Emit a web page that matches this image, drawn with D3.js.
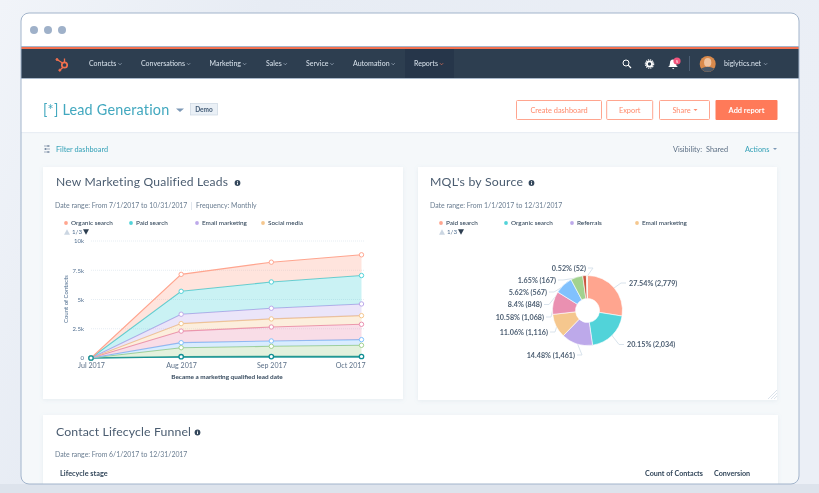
<!DOCTYPE html>
<html><head><meta charset="utf-8">
<style>
html,body{margin:0;padding:0;background:#e8edf4;overflow:hidden}
svg{display:block;font-family:Lato,"Open Sans",sans-serif;filter:blur(.3px)}
</style>
<script src="https://cdnjs.cloudflare.com/ajax/libs/d3/7.8.5/d3.min.js"></script>
</head><body><svg id="c" width="819" height="493"></svg>
<script>
// ---------- data ----------
const months = ["Jul 2017","Aug 2017","Sep 2017","Oct 2017"];
const yTicks = [0,2500,5000,7500,10000];
const yTickLabels = ["0","2.5k","5k","7.5k","10k"];
// stacked from the bottom up
const stackSeries = ["Offline","Other","Direct","Referrals","Social media","Email marketing","Paid search","Organic search"];
const offlineVals = [0,110,120,130];
const otherVals   = [0,770,880,955];
const directVals  = [0,430,455,485];
const referralVals= [0,990,1195,1310];
const socialVals  = [0,640,690,740];
const emailVals   = [0,800,910,1000];
const paidVals    = [0,1960,2250,2430];
const organicVals = [0,1450,1690,1770];
const stackColors = ["#0f8f95","#a2d28f","#81c1fd","#ea90b1","#f5c78e","#bda9ea","#51d3d9","#ffa58f"];
const lineLegend = ["Organic search","Paid search","Email marketing","Social media"];
const lineLegendColors = ["#ffa58f","#51d3d9","#bda9ea","#f5c78e"];

const pieNames = ["Paid search","Organic search","Referrals","Email marketing","Social media","Direct traffic","Other campaigns","Offline sources","Unknown"];
const pieValues = [2779,2034,1461,1116,1068,848,567,167,52];
const piePercents = ["27.54%","20.15%","14.48%","11.06%","10.58%","8.4%","5.62%","1.65%","0.52%"];
const pieColors = ["#ffa58f","#51d3d9","#bda9ea","#f5c78e","#ea90b1","#81c1fd","#a2d28f","#c9573f","#ecdcc0"];
const pieLegend = ["Paid search","Organic search","Referrals","Email marketing"];
const navItems = ["Contacts","Conversations","Marketing","Sales","Service","Automation","Reports"];

// ---------- layout ----------
const navX = [89,141,209.5,266,306,353,414];
const legendXLine = [66,131,197,263];
const legendXPie = [441,506,572,637];
// label anchor [x, y, text-anchor] for each slice
const pieLabelLayout = [[629,283,"start"],[627,344.5,"start"],[575,355,"end"],[548,332,"end"],[544,317,"end"],[542,304.5,"end"],[547,292,"end"],[556,280,"end"],[586,268,"end"]];

const svg = d3.select("#c");
const defs = svg.append("defs");
const g1 = defs.append("linearGradient").attr("id","bg").attr("x1",0).attr("y1",0).attr("x2",1).attr("y2",0.3);
g1.append("stop").attr("offset",0).attr("stop-color","#f1f4f9");
g1.append("stop").attr("offset",.3).attr("stop-color","#e7ecf4");
g1.append("stop").attr("offset",1).attr("stop-color","#ebeff6");
defs.append("clipPath").attr("id","win").append("rect").attr("x",21).attr("y",13).attr("width",778).attr("height",471).attr("rx",8);
const sh = defs.append("filter").attr("id","sh").attr("x","-5%").attr("y","-5%").attr("width","110%").attr("height","110%");
sh.append("feDropShadow").attr("dx",0).attr("dy",1).attr("stdDeviation",2).attr("flood-color","#7c98b6").attr("flood-opacity",.12);

function T(p,x,y,s,size,fill,o={}){
  const t=p.append("text").attr("x",x).attr("y",y).attr("dy","0.35em").attr("font-size",size).attr("fill",fill).text(s);
  if(o.anchor)t.attr("text-anchor",o.anchor);
  if(o.weight)t.attr("font-weight",o.weight);
  if(o.ls)t.attr("letter-spacing",o.ls);
  return t;
}
svg.append("rect").attr("width",819).attr("height",493).attr("fill","url(#bg)");
svg.append("rect").attr("y",484).attr("width",819).attr("height",9).attr("fill","#dde3ec");
svg.append("rect").attr("x",21).attr("y",13).attr("width",778).attr("height",471).attr("rx",8).attr("fill","#f5f8fa");

const win = svg.append("g").attr("clip-path","url(#win)");
// title bar
win.append("rect").attr("x",21).attr("y",13).attr("width",778).attr("height",33).attr("fill","#fff");
[34,48,62].forEach(x=>win.append("circle").attr("cx",x).attr("cy",30).attr("r",4).attr("fill","#9fb1c9"));
win.append("rect").attr("x",21).attr("y",46).attr("width",778).attr("height",1).attr("fill","#a5b6cc");
win.append("rect").attr("x",21).attr("y",47).attr("width",778).attr("height",2).attr("fill","#f2704f");
win.append("rect").attr("x",21).attr("y",49).attr("width",778).attr("height",29).attr("fill","#2d3e50");
win.append("rect").attr("x",21).attr("y",78).attr("width",778).attr("height",1).attr("fill","#a9b8ca");
win.append("rect").attr("x",405).attr("y",49).attr("width",49).attr("height",29).attr("fill","#26364a");
// logo
const lg = win.append("g").attr("stroke","#f2704f").attr("fill","none");
lg.append("circle").attr("cx",64.5).attr("cy",65).attr("r",2.7).attr("stroke-width",1.7);
lg.append("path").attr("d","M57,59.5 L62.5,63 M64.5,58.5 V62 M62.8,67.5 L60,70").attr("stroke-width",1.3);
lg.append("circle").attr("cx",57).attr("cy",59.5).attr("r",1).attr("fill","#f2704f");
lg.append("circle").attr("cx",59.8).attr("cy",70.2).attr("r",1).attr("fill","#f2704f");
// nav
navItems.forEach((n,i)=>{
  const t=T(win,navX[i],64,n,7,"#d5dfe9",{weight:500});
  const w=t.node().getComputedTextLength();
  win.append("path").attr("d",`M${navX[i]+w+2},63.2 l1.6,1.6 l1.6,-1.6`).attr("fill","none").attr("stroke",i==6?"#ff7a59":"#b8c6d6").attr("stroke-width",.6);
});
// right icons
win.append("circle").attr("cx",626).attr("cy",63).attr("r",3).attr("fill","none").attr("stroke","#fff").attr("stroke-width",1);
win.append("path").attr("d","M628.2,65.2 L631,68").attr("stroke","#fff").attr("stroke-width",1.2);
win.append("circle").attr("cx",649.5).attr("cy",64).attr("r",2.6).attr("fill","none").attr("stroke","#fff").attr("stroke-width",1.8);
win.append("circle").attr("cx",649.5).attr("cy",64).attr("r",4.2).attr("fill","none").attr("stroke","#fff").attr("stroke-width",1.1).attr("stroke-dasharray","1.3 .9");
win.append("path").attr("d","M668,67 q2,-1 2,-4 q0,-3.5 3,-3.5 q3,0 3,3.5 q0,3 2,4 z M672,68 h2.4 l-1.2,1.3 z").attr("fill","#fff");
win.append("circle").attr("cx",677).attr("cy",61).attr("r",3.6).attr("fill","#f2547d");
T(win,677,61,"5",4.5,"#fff",{anchor:"middle"});
win.append("rect").attr("x",689).attr("y",56).attr("width",.7).attr("height",15).attr("fill","#5a6e84");
win.append("circle").attr("cx",707.7).attr("cy",64).attr("r",8).attr("fill","#d98a4c");
win.append("ellipse").attr("cx",707.7).attr("cy",62.5).attr("rx",3.6).attr("ry",4.4).attr("fill","#efc3a0");
win.append("path").attr("d","M701.2,68.5 q6.5,-3.5 13,0 a8,8 0 0 1 -13,0").attr("fill","#4a5868");
T(win,724,64,"biglytics.net",7,"#d5dfe9",{weight:500});
win.append("path").attr("d","M764,63.2 l1.6,1.6 l1.6,-1.6").attr("fill","none").attr("stroke","#b8c6d6").attr("stroke-width",.6);

// header band
win.append("rect").attr("x",21).attr("y",79).attr("width",778).attr("height",53).attr("fill","#fff");
win.append("rect").attr("x",21).attr("y",132).attr("width",778).attr("height",1.2).attr("fill","#e9eef4");
T(win,43,110,"[*] Lead Generation",14.4,"#42a8bf",{ls:.2});
win.append("path").attr("d","M176,108.5 h8 l-4,3.5 z").attr("fill","#7c98b6");
win.append("rect").attr("x",190.5).attr("y",103.5).attr("width",27).attr("height",11.5).attr("fill","#eaf0f6").attr("stroke","#cbd6e2").attr("stroke-width",.7);
T(win,204,109.5,"Demo",6.5,"#425b76",{anchor:"middle",weight:700});
const btns=[["Create dashboard",516.5,85],["Export",606.7,46],["Share",659.5,50]];
btns.forEach(([s,x,w],i)=>{
  win.append("rect").attr("x",x).attr("y",100.5).attr("width",w).attr("height",19).attr("rx",1).attr("fill","#fff").attr("stroke","#ffa58f").attr("stroke-width",1);
  T(win,x+w/2-(i==2?3:0),110,s,7.4,"#ff8a6c",{anchor:"middle"});
});
win.append("path").attr("d","M693.5,109 h4 l-2,2 z").attr("fill","#ff8a6c");
win.append("rect").attr("x",715.5).attr("y",100).attr("width",62).attr("height",20).attr("rx",1).attr("fill","#ff7a59");
T(win,746.5,110,"Add report",7.4,"#fff",{anchor:"middle",weight:700});
// filter row
[[44,146],[44,149],[44,152]].forEach(([x,y],i)=>{
  win.append("path").attr("d",`M${x},${y} h6`).attr("stroke","#7c8ea3").attr("stroke-width",.7);
  win.append("rect").attr("x",x+[3.5,1,3.5][i]).attr("y",y-1).attr("width",1.2).attr("height",2).attr("fill","#7c8ea3");
});
T(win,56,149,"Filter dashboard",7.3,"#3fa6bb",{weight:500});
T(win,673,149,"Visibility:",7.3,"#5c6f84");
T(win,706,149,"Shared",7.3,"#5c6f84");
T(win,745,149,"Actions",7.3,"#3fa6bb",{weight:500});
win.append("path").attr("d","M773,148 h4 l-2,2 z").attr("fill","#7c98b6");

function card(x,y,w,h){win.append("rect").attr("x",x).attr("y",y).attr("width",w).attr("height",h).attr("fill","#fff").attr("filter","url(#sh)");}
function info(x,y){
  win.append("circle").attr("cx",x).attr("cy",y).attr("r",2.9).attr("fill","#33475b");
  win.append("rect").attr("x",x-.5).attr("y",y-.4).attr("width",1).attr("height",2).attr("fill","#fff");
  win.append("rect").attr("x",x-.5).attr("y",y-1.7).attr("width",1).attr("height",.8).attr("fill","#fff");
}
function pager(x,y){
  win.append("path").attr("d",`M${x-3},${y+2.7} h6 l-3,-5.4 z`).attr("fill","#cbd6e2");
  T(win,x+5,y,"1/3",6.2,"#516f90");
  win.append("path").attr("d",`M${x+16},${y-2.7} h6 l-3,5.4 z`).attr("fill","#2d3e50");
}
card(43,167,360,232);card(418,167,359,233);card(43,415,735,80);

// ---------- left card ----------
T(win,56,182,"New Marketing Qualified Leads",12.1,"#4a5c70",{ls:.2});
info(237.5,183);
T(win,55,206,"Date range: From 7/1/2017 to 10/31/2017",6.9,"#6a7d91");
win.append("rect").attr("x",191).attr("y",202).attr("width",.6).attr("height",8).attr("fill","#cbd6e2");
T(win,196,206,"Frequency: Monthly",6.9,"#6a7d91");
lineLegend.forEach((n,i)=>{
  win.append("circle").attr("cx",legendXLine[i]).attr("cy",223).attr("r",1.9).attr("fill",lineLegendColors[i]);
  T(win,legendXLine[i]+5,222.5,n,6.4,"#33475b",{weight:500});
});
pager(67,232);

const x = d3.scalePoint().domain(months).range([91,361.5]);
const y = d3.scaleLinear().domain([0,10000]).range([358,241]);
const rows = months.map((m,i)=>({m,Offline:offlineVals[i],Other:otherVals[i],Direct:directVals[i],Referrals:referralVals[i],"Social media":socialVals[i],"Email marketing":emailVals[i],"Paid search":paidVals[i],"Organic search":organicVals[i]}));
const stacked = d3.stack().keys(stackSeries)(rows);

const yAxis = d3.axisLeft(y).tickValues(yTicks).tickFormat((d,i)=>yTickLabels[i]).tickSize(0).tickPadding(0);
const ya = win.append("g").attr("transform","translate(84,0)").call(yAxis);
ya.select(".domain").remove();
ya.selectAll("text").attr("font-size",6).attr("fill","#516f90").attr("font-family","Lato");
win.append("g").selectAll("line").data(yTicks.slice(1)).join("line")
  .attr("x1",91).attr("x2",365).attr("y1",d=>y(d)).attr("y2",d=>y(d))
  .attr("stroke","#dfe8f0").attr("stroke-width",.8).attr("stroke-dasharray","1 1");
const xAxis = d3.axisBottom(x).tickSize(0).tickPadding(0);
const xa = win.append("g").attr("transform","translate(0,362.8)").call(xAxis);
xa.select(".domain").remove();
xa.selectAll("text").attr("font-size",7.1).attr("fill","#5c7088").attr("font-family","Lato");
xa.selectAll("text").filter(d=>d===months[months.length-1]).attr("text-anchor","end").attr("dx",3.5);
win.append("text").attr("transform","translate(66,299) rotate(-90)").attr("text-anchor","middle").attr("dy","0.35em").attr("font-size",6).attr("fill","#516f90").text("Count of Contacts");
T(win,227,377,"Became a marketing qualified lead date",6.4,"#33475b",{anchor:"middle",weight:700});

const area = d3.area().x(d=>x(d.data.m)).y0(d=>y(d[0])).y1(d=>y(d[1]));
const line = d3.line().x(d=>x(d.data.m)).y(d=>y(d[1]));
const gs = win.append("g").selectAll("g").data(stacked).join("g");
gs.append("path").attr("d",area).attr("fill",(d,i)=>stackColors[i]).attr("fill-opacity",(d,i)=>i==0?.55:.3);
gs.append("path").attr("d",line).attr("fill","none").attr("stroke",(d,i)=>stackColors[i]).attr("stroke-width",(d,i)=>i==0?1.5:1.1);
// Draw from the top series down so the lowest dots sit on top.
const dots = win.append("g").selectAll("g").data(stacked.slice().reverse()).join("g");
dots.each(function(s){
  const c = stackColors[stackSeries.indexOf(s.key)];
  d3.select(this).selectAll("circle").data(s).join("circle")
    .attr("cx",d=>x(d.data.m)).attr("cy",d=>y(d[1])).attr("r",2.2)
    .attr("fill","#fff").attr("stroke",c).attr("stroke-width",s.key==="Offline"?1.3:1);
});

// ---------- right card ----------
T(win,430,182,"MQL's by Source",12.3,"#4a5c70",{ls:.2});
info(531.5,183);
T(win,430,206,"Date range: From 1/1/2017 to 12/31/2017",6.9,"#6a7d91");
pieLegend.forEach((n,i)=>{
  win.append("circle").attr("cx",legendXPie[i]).attr("cy",223).attr("r",1.9).attr("fill",pieColors[i]);
  T(win,legendXPie[i]+5,222.5,n,6.4,"#33475b",{weight:500});
});
pager(442,232);

const cx=587.5, cy=310.5, R=35, r0=12;
const pie = d3.pie().sort(null).value(d=>d);
const arcs = pie(pieValues);
const arc = d3.arc().innerRadius(r0).outerRadius(R);
arcs.forEach((a,i)=>{
  const m=(a.startAngle+a.endAngle)/2;
  const [lx,ly,anc]=pieLabelLayout[i];
  const px=cx+Math.sin(m)*(R-1), py=cy-Math.cos(m)*(R-1);
  const ex=anc=="start"?lx-3:lx+2;
  const kx=anc=="start"?lx-8:lx+7;
  win.append("path").attr("d",`M${px},${py} L${kx},${ly} L${ex},${ly}`).attr("fill","none").attr("stroke","#d5e0ea").attr("stroke-width",.9);
  T(win,lx,ly,`${piePercents[i]} (${d3.format(",")(pieValues[i])})`,7.2,"#4b5d71",{anchor:anc,weight:700});
});
const pg = win.append("g").attr("transform",`translate(${cx},${cy})`);
pg.selectAll("path").data(arcs).join("path").attr("d",arc).attr("fill",(d,i)=>pieColors[i]).attr("stroke","#fff").attr("stroke-width",.6);
// resize handle
[0,3,6].forEach(d=>win.append("path").attr("d",`M${777-d-3},399 L777,${399-d-3}`).attr("stroke","#cbd6e2").attr("stroke-width",.7));

// ---------- bottom card ----------
T(win,56,431.5,"Contact Lifecycle Funnel",12.3,"#4a5c70",{ls:.1});
info(197.5,432.5);
T(win,55,455,"Date range: From 6/1/2017 to 12/31/2017",6.9,"#6a7d91");
T(win,60,473.5,"Lifecycle stage",7.3,"#33475b",{weight:700});
T(win,645,473.5,"Count of Contacts",7.2,"#33475b",{weight:700});
T(win,714,473.5,"Conversion",7.2,"#33475b",{weight:700});

// window border
svg.append("rect").attr("x",21).attr("y",13).attr("width",778).attr("height",471).attr("rx",8).attr("fill","none").attr("stroke","#a2b4cb").attr("stroke-width",1);
</script></body></html>
